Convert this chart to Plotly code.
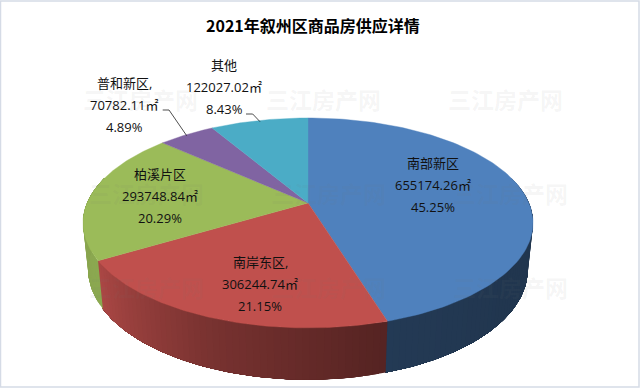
import numpy as np
import plotly.graph_objects as go

categories = ["南部新区", "南岸东区,", "柏溪片区", "普和新区,", "其他"]
areas = [655174.26, 306244.74, 293748.84, 70782.11, 122027.02]
area_labels = ["655174.26㎡", "306244.74㎡", "293748.84㎡", "70782.11㎡", "122027.02㎡"]
percent_labels = ["45.25%", "21.15%", "20.29%", "4.89%", "8.43%"]
colors = ["#4f81bd", "#c0504d", "#9bbb59", "#8064a2", "#4bacc6"]
title = "2021年叙州区商品房供应详情"
watermark = "三江房产网"

label_xy = [(432.5, 185), (260, 284), (160, 196), (124, 105), (224, 87)]
LINE_GAP = 22
FONT = "Open Sans, Noto Sans CJK SC"
CJK = "Noto Sans CJK SC"

CX, CY, A, B, K = 308.0, 203.0, 220.9, 101.2, 0.19
WALL_SX, WALL_SY, WALL_CY = 0.977, 1.05, 248.5


def top(th):
    u, v = np.sin(th), np.cos(th)
    w = 1 + K * v
    return CX + A * u / w, CY - B * v / w


def bottom(th):
    x, y = top(th)
    return CX + (x - CX) * WALL_SX, WALL_CY + (y - CY) * WALL_SY


def hex2rgb(h):
    return np.array([int(h[i:i + 2], 16) for i in (1, 3, 5)], float)


def shade(color, deg):
    f = np.interp(deg, [80, 130, 165, 200, 240, 280], [0.42, 0.42, 0.45, 0.62, 0.9, 0.87])
    r, g, b = hex2rgb(color) * f
    return f"rgb({r:.0f},{g:.0f},{b:.0f})"


total = sum(areas)
edges = np.concatenate([[0], np.cumsum(areas) / total]) * 2 * np.pi

fig = go.Figure()

# side walls: painter's order so neighbouring strips leave no seams
for i, col in enumerate(colors):
    lo, hi = max(edges[i], np.radians(75)), min(edges[i + 1], np.radians(285))
    if hi <= lo:
        continue
    steps = max(2, int(np.degrees(hi - lo) / 1.5))
    bounds = np.linspace(lo, hi, steps + 1)
    for a0, a1 in zip(bounds[:-1], bounds[1:]):
        th = np.linspace(a0, hi, max(3, int(np.degrees(hi - a0)) + 2))
        xt, yt = top(th)
        xb, yb = bottom(th[::-1])
        c = shade(col, np.degrees((a0 + a1) / 2))
        fig.add_trace(go.Scatter(x=np.r_[xt, xb, xt[0]], y=np.r_[yt, yb, yt[0]], mode="lines",
                                 fill="toself", fillcolor=c, line=dict(width=0),
                                 hoverinfo="skip", showlegend=False))

# top faces
for i, col in enumerate(colors):
    th = np.linspace(edges[i], edges[i + 1], 120)
    xt, yt = top(th)
    fig.add_trace(go.Scatter(x=np.r_[CX, xt, CX], y=np.r_[CY, yt, CY], mode="lines",
                             fill="toself", fillcolor=col, line=dict(color=col, width=0.4),
                             hoverinfo="skip", showlegend=False))

# leader lines
for pts in ([(162.7, 110), (169, 110), (186.7, 135.7)], [(246, 114), (252.7, 114), (260, 121.7)]):
    fig.add_trace(go.Scatter(x=[p[0] for p in pts], y=[p[1] for p in pts], mode="lines",
                             line=dict(color="#222222", width=0.8), hoverinfo="skip", showlegend=False))

ann = []
for wx, wy in [(140, 99), (323, 99), (505, 99), (146, 193), (328, 193), (510, 193), (146, 287), (328, 287), (510, 287)]:
    ann.append(dict(x=wx, y=wy, text=f"<b>{watermark}</b>", showarrow=False, xref="x", yref="y",
                    font=dict(family=CJK, size=23, color="rgba(120,120,120,0.075)"),
                    xanchor="center", yanchor="middle"))

for i, (lx, ly) in enumerate(label_xy):
    for j, txt in enumerate((categories[i], area_labels[i], percent_labels[i])):
        ann.append(dict(x=lx, y=ly + (j - 1) * LINE_GAP, text=txt, showarrow=False, xref="x", yref="y",
                        font=dict(family=FONT, size=13, color="#111111"), xanchor="center", yanchor="middle"))

ann.append(dict(x=312.5, y=25, text=f"<b>{title}</b>", showarrow=False, xref="x", yref="y",
                font=dict(family=CJK, size=16, color="#000000"), xanchor="center", yanchor="middle"))

shapes = [dict(type="rect", xref="x", yref="y", x0=0.5, y0=1, x1=639, y1=387,
               line=dict(color="#d5dbe6", width=1.5), fillcolor="rgba(0,0,0,0)")]

fig.update_layout(width=640, height=388, margin=dict(l=0, r=0, t=0, b=0),
                  paper_bgcolor="white", plot_bgcolor="white", showlegend=False,
                  xaxis=dict(range=[0, 640], visible=False, fixedrange=True),
                  yaxis=dict(range=[388, 0], visible=False, fixedrange=True),
                  annotations=ann, shapes=shapes)
fig.write_html("out.html", config=dict(displayModeBar=False),
               post_script="document.body.style.margin='0';document.body.style.overflow='hidden';")
